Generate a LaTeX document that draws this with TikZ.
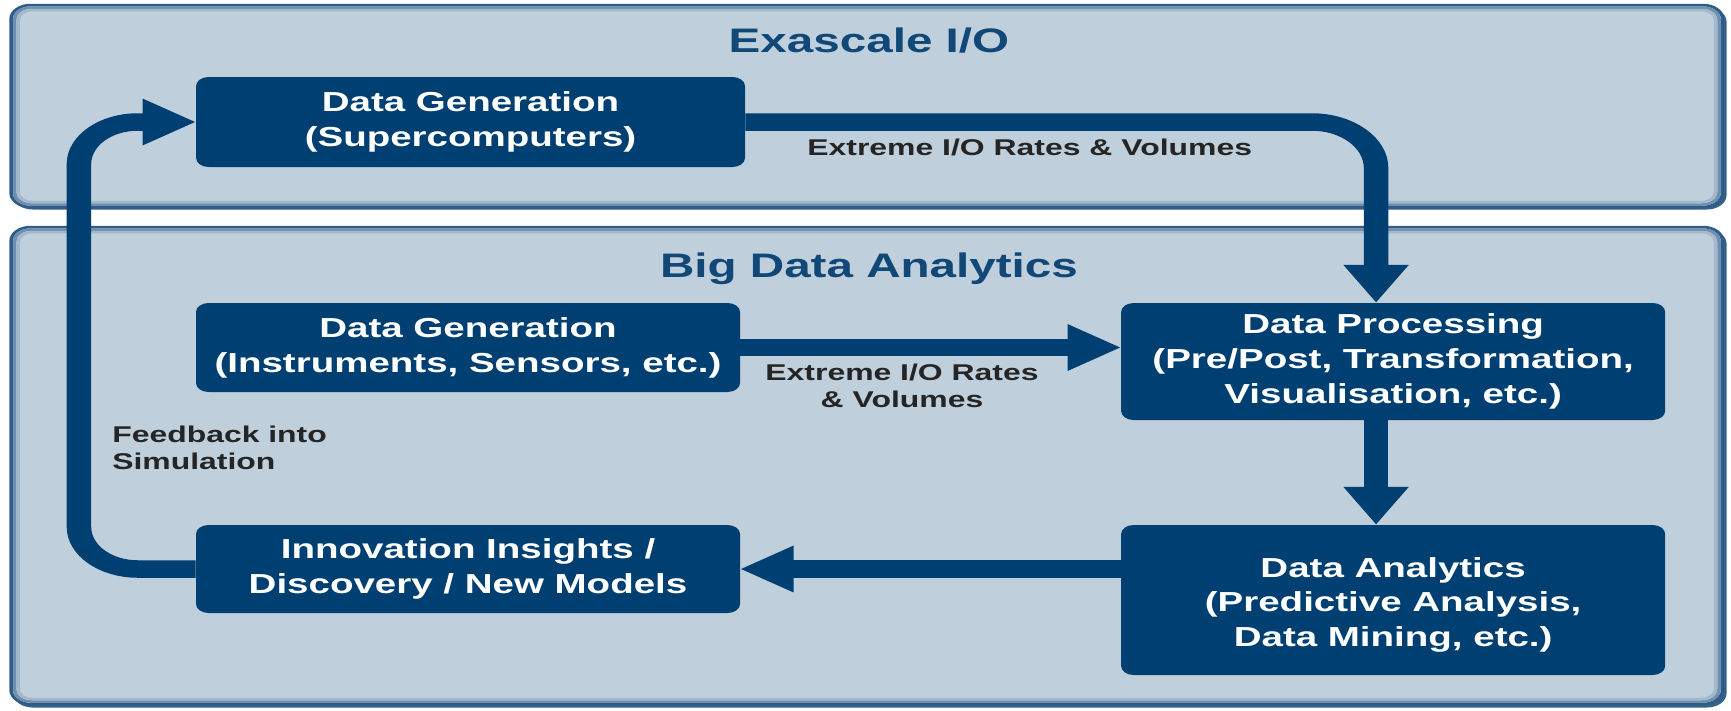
\documentclass[tikz,border=0pt]{standalone}
\usepackage{fontspec}
\setmainfont{Liberation Sans}
\usetikzlibrary{arrows.meta}

\definecolor{panelfill}{HTML}{BFCFDC}
\definecolor{panelrim}{HTML}{2F5C88}
\definecolor{panelrimB}{HTML}{6E8FB0}
\definecolor{panelrimC}{HTML}{A3B8CB}
\definecolor{panelshade}{HTML}{36608A}
\definecolor{navy}{HTML}{003F71}
\definecolor{titleblue}{HTML}{124878}
\definecolor{labelgray}{HTML}{252525}

\tikzset{
  panel/.style={fill=panelfill, draw=panelrim, line width=2.5pt, rounded corners=14pt},
  shade/.style={fill=panelshade, rounded corners=14pt},
  rimB/.style={draw=panelrimB, line width=2.5pt, rounded corners=12pt},
  rimC/.style={draw=panelrimC, line width=2.5pt, rounded corners=10pt},
  stage/.style={fill=navy, text=white, rounded corners=9pt, align=center,
    inner sep=0pt, font=\bfseries\fontsize{27.5}{35}\selectfont},
  heading/.style={text=titleblue, font=\bfseries\fontsize{34}{40}\selectfont},
  note/.style={text=labelgray, inner sep=0pt, font=\bfseries\fontsize{22.8}{26.5}\selectfont},
  flow/.style={draw=navy, line width=17.5pt, -{Triangle[length=38pt,width=44pt]}},
}

\begin{document}
\begin{tikzpicture}[x=1pt,y=-1pt]
\useasboundingbox (0,0) rectangle (1731,710);
% everything is laid out narrow and widened by 1.4 as a whole
\begin{scope}[transform canvas={xscale=1.4}]

  % the two layers, with a soft dark edge at bottom right
  \fill[shade] (9.4,7.5) rectangle (1233.2,209.5);
  \draw[panel] (7.9,5) rectangle (1230.4,207);
  \draw[rimB] (10.4,7.5) rectangle (1227.9,204.5);
  \draw[rimC] (12.9,10) rectangle (1225.4,202);
  \fill[shade] (9.4,229.5) rectangle (1233.2,707.5);
  \draw[panel] (7.9,227) rectangle (1230.4,704);
  \draw[rimB] (10.4,229.5) rectangle (1227.9,701.5);
  \draw[rimC] (12.9,232) rectangle (1225.4,699);

  \node[heading, anchor=base] (t1) at (620.7,52) {Exascale I/O};
  \node[heading, anchor=base] (t2) at (620.7,277) {Big Data Analytics};

  % stages
  \node[stage, minimum width=392.1pt, minimum height=90pt] (A) at (336.1,122)
    {Data Generation\\(Supercomputers)};
  \node[stage, minimum width=388.6pt, minimum height=89pt] (B) at (334.3,347.5)
    {Data Generation\\(Instruments, Sensors, etc.)};
  \node[stage, minimum width=388.6pt, minimum height=117pt] (C) at (995.1,361.5)
    {Data Processing\\(Pre/Post, Transformation,\\Visualisation, etc.)};
  \node[stage, minimum width=388.6pt, minimum height=150pt,
        font=\bfseries\fontsize{27.5}{34.5}\selectfont] (D) at (995.1,600)
    {\\[-5pt]Data Analytics\\(Predictive Analysis,\\Data Mining, etc.)};
  \node[stage, minimum width=388.6pt, minimum height=88pt] (E) at (334.3,569)
    {Innovation Insights /\\Discovery / New Models};

  % routing columns
  \coordinate (tk) at (982.9,0);
  \coordinate (fb) at (56.4,0);

  % connectors
  \draw[flow, rounded corners=46pt] (A.east) -| (tk |- C.north);
  \draw[flow] (B.east) -- (B.east -| C.west);
  \draw[flow] (tk |- C.south) -- (tk |- D.north);
  \draw[flow] (D.west |- E.east) -- (E.east);
  \draw[flow, rounded corners=42pt] (E.west) -| (fb |- A.west) -- (A.west);

  % connector labels
  \node[note, anchor=base] (l1) at (735.5,155) {Extreme I/O Rates \& Volumes};
  \node[note, align=center] (l2) at (644.3,386) {Extreme I/O Rates\\\& Volumes};
  \node[note, align=left, anchor=west] (l3) at (80,448) {Feedback into\\Simulation};

\end{scope}
\end{tikzpicture}
\end{document}
